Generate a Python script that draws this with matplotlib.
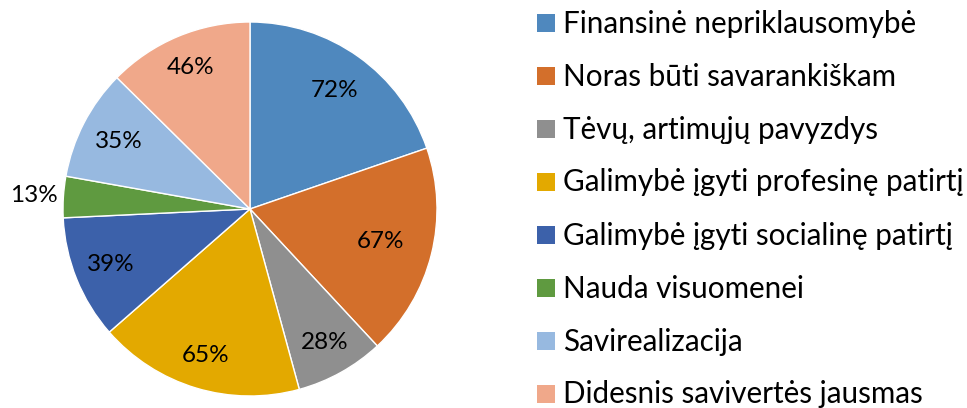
import matplotlib
matplotlib.use("Agg")
import matplotlib.pyplot as plt
from matplotlib.patches import Rectangle
import numpy as np

categories = ["Finansinė nepriklausomybė", "Noras būti savarankiškam", "Tėvų, artimųjų pavyzdys",
              "Galimybė įgyti profesinę patirtį", "Galimybė įgyti socialinę patirtį",
              "Nauda visuomenei", "Savirealizacija", "Didesnis savivertės jausmas"]
values = [72, 67, 28, 65, 39, 13, 35, 46]
colors = ["#4F88BE", "#D36F2B", "#8F8F8F", "#E3A900", "#3C61AA", "#5F9A40", "#97B9E0", "#F0A88A"]
label_dist = [0.78, 0.72, 0.82, 0.82, 0.80, 1.16, 0.79, 0.82]

plt.rcParams['font.family'] = ['Lato', 'DejaVu Sans']

W, H = 967, 408
fig = plt.figure(figsize=(W/100, H/100), dpi=100)
cx, cy, r = 250, 209, 187
ax = fig.add_axes([(cx - r)/W, (H - cy - r)/H, 2*r/W, 2*r/H])
wedges, _ = ax.pie(values, colors=colors, startangle=90, counterclock=False,
                   wedgeprops=dict(edgecolor="white", linewidth=1.0))
ax.set_xlim(-1, 1)
ax.set_ylim(-1, 1)
ax.set_aspect('equal')
ax.axis('off')

for w, v, d in zip(wedges, values, label_dist):
    ang = np.deg2rad((w.theta1 + w.theta2) / 2)
    ax.text(d*np.cos(ang), d*np.sin(ang), f"{v}%", ha='center', va='center',
            fontsize=17.5, color='black')

# legend
y0, dy = 23, 53
for i, (lab, c) in enumerate(zip(categories, colors)):
    yc = y0 + i*dy
    fig.patches.append(Rectangle((537/W, (H - yc - 9)/H), 18/W, 18/H,
                                 transform=fig.transFigure, facecolor=c, edgecolor='none'))
    fig.text(563/W, (H - yc - 9.5)/H, lab, ha='left', va='baseline', fontsize=21.3, color='black')

fig.savefig("out.png", dpi=100)
